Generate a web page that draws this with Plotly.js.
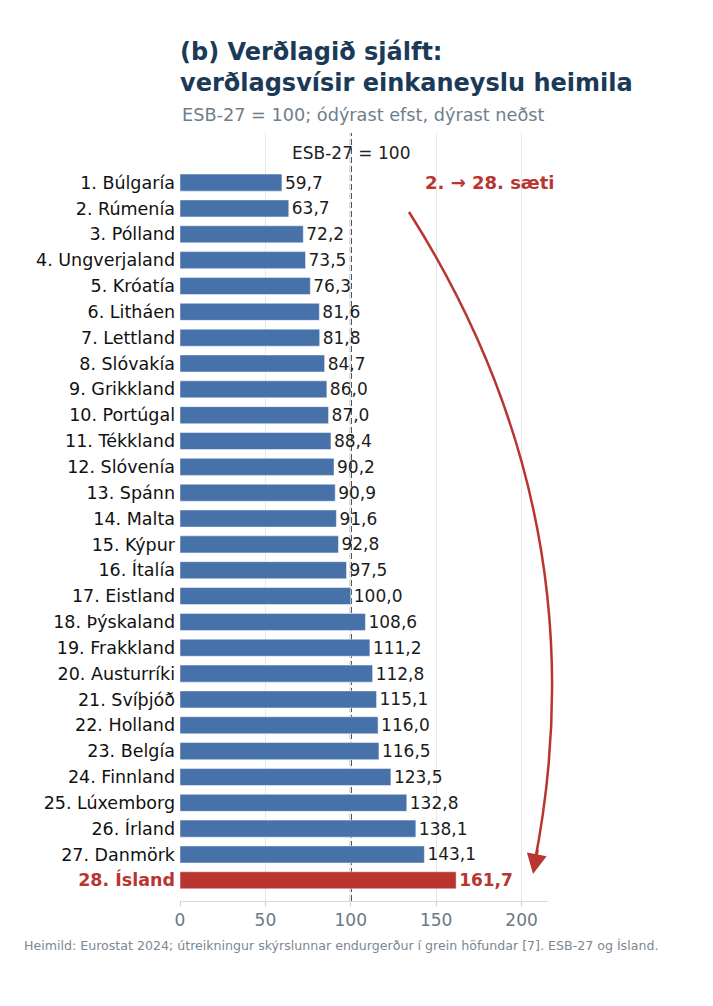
<!DOCTYPE html>
<html>
<head>
<meta charset="utf-8">
<script src="https://cdn.plot.ly/plotly-3.0.1.min.js"></script>
<style>
  html, body { margin: 0; padding: 0; background: #ffffff; }
  #chart { width: 713px; height: 1006px; }
</style>
</head>
<body>
<div id="chart"></div>
<script>
// ---- data ----
const countries = ['Búlgaría','Rúmenía','Pólland','Ungverjaland','Króatía','Litháen','Lettland','Slóvakía','Grikkland','Portúgal','Tékkland','Slóvenía','Spánn','Malta','Kýpur','Ítalía','Eistland','Þýskaland','Frakkland','Austurríki','Svíþjóð','Holland','Belgía','Finnland','Lúxemborg','Írland','Danmörk','Ísland'];
const values = [59.7,63.7,72.2,73.5,76.3,81.6,81.8,84.7,86.0,87.0,88.4,90.2,90.9,91.6,92.8,97.5,100.0,108.6,111.2,112.8,115.1,116.0,116.5,123.5,132.8,138.1,143.1,161.7];
const highlight = 'Ísland';
const xTicks = [0, 50, 100, 150, 200];
const euReference = 100;

const BLUE = '#4771a9';
const RED = '#b9352f';
const FONT = 'DejaVu Sans';

const labels = countries.map((c, i) => (i + 1) + '. ' + c);
const tickText = countries.map((c, i) => c === highlight
  ? '<span style="color:' + RED + '"><b>' + labels[i] + '</b></span>'
  : labels[i]);
const barColors = countries.map(c => c === highlight ? RED : BLUE);
const textColors = countries.map(c => c === highlight ? RED : '#1c1c1c');
const templates = countries.map(c => c === highlight ? '<b>%{x:.1f}</b>' : '%{x:.1f}');

const trace = {
  type: 'bar',
  orientation: 'h',
  x: values,
  y: labels,
  marker: { color: barColors, line: { color: 'rgba(255,255,255,0.6)', width: 0.8 } },
  width: 0.66,
  texttemplate: templates,
  textposition: 'outside',
  constraintext: 'none',
  cliponaxis: false,
  textfont: { family: FONT, size: 17, color: textColors },
  hoverinfo: 'skip'
};

// plot area in pixels: left 180, width 368; top 133, height 768
const PX = v => (v - 180) / 368;
const PY = v => (901 - v) / 768;

const layout = {
  width: 713,
  height: 1006,
  margin: { l: 180, r: 165, t: 133, b: 105 },
  paper_bgcolor: '#ffffff',
  plot_bgcolor: '#ffffff',
  separators: ',.',
  showlegend: false,
  hovermode: false,
  font: { family: FONT, color: '#1c1c1c' },
  title: {
    text: '<b>(b) Verðlagið sjálft:</b><br><b>verðlagsvísir einkaneyslu heimila</b>',
    font: { family: FONT, size: 24, color: '#1b3a58' },
    x: 0, xref: 'paper', xanchor: 'left',
    y: 1 - 60 / 1006, yref: 'container', yanchor: 'top'
  },
  xaxis: {
    range: [0, 215.5],
    tickvals: xTicks,
    ticktext: xTicks.map(String),
    showgrid: true,
    gridcolor: '#e4e8ec',
    gridwidth: 1,
    zeroline: false,
    showline: true,
    linecolor: '#d5dade',
    linewidth: 1,
    ticks: 'outside',
    ticklen: 4,
    tickcolor: '#c8cdd2',
    tickfont: { family: FONT, size: 17, color: '#6c7884' },
    fixedrange: true
  },
  yaxis: {
    type: 'category',
    categoryorder: 'array',
    categoryarray: labels,
    range: [27.8, -1.92],
    tickmode: 'array',
    tickvals: labels,
    ticktext: tickText,
    showgrid: false,
    zeroline: false,
    showline: false,
    ticks: '',
    ticklabelstandoff: 4,
    tickfont: { family: FONT, size: 17.5, color: '#111111' },
    fixedrange: true
  },
  shapes: [
    {
      type: 'line', xref: 'x', yref: 'paper',
      x0: euReference, x1: euReference, y0: 0, y1: 1,
      line: { color: '#000000', width: 1.8, dash: '6px,3px' },
      layer: 'below'
    },
    {
      type: 'path', xref: 'paper', yref: 'paper',
      path: 'M ' + PX(409) + ',' + PY(212) + ' Q ' + PX(603) + ',' + PY(518) + ' ' + PX(534) + ',' + PY(866),
      line: { color: RED, width: 2.5 },
      layer: 'above'
    }
  ],
  annotations: [
    {
      text: 'ESB-27 = 100; ódýrast efst, dýrast neðst',
      xref: 'paper', yref: 'paper', x: 0, y: PY(115),
      xanchor: 'left', yanchor: 'middle', showarrow: false,
      font: { family: FONT, size: 17.7, color: '#6f7e8c' }
    },
    {
      text: 'ESB-27 = 100',
      xref: 'x', yref: 'paper', x: euReference, y: PY(153),
      xanchor: 'center', yanchor: 'middle', showarrow: false,
      font: { family: FONT, size: 17, color: '#222222' }
    },
    {
      text: '<b>2. → 28. sæti</b>',
      xref: 'x', yref: 'y', x: 181.5, y: labels[0],
      xanchor: 'center', yanchor: 'middle', showarrow: false,
      font: { family: FONT, size: 18, color: RED }
    },
    {
      text: '',
      xref: 'paper', yref: 'paper', x: PX(533), y: PY(874),
      showarrow: true, arrowhead: 2, arrowsize: 1.6, arrowwidth: 2.5,
      arrowcolor: RED, axref: 'pixel', ayref: 'pixel', ax: 5, ay: -26, standoff: 0
    },
    {
      text: 'Heimild: Eurostat 2024; útreikningur skýrslunnar endurgerður í grein höfundar [7]. ESB-27 og Ísland.',
      xref: 'paper', yref: 'paper', x: PX(22), y: PY(945),
      xanchor: 'left', yanchor: 'middle', showarrow: false,
      font: { family: FONT, size: 12.6, color: '#7a8794' }
    }
  ]
};

Plotly.newPlot('chart', [trace], layout, { displayModeBar: false, staticPlot: true });
</script>
</body>
</html>
